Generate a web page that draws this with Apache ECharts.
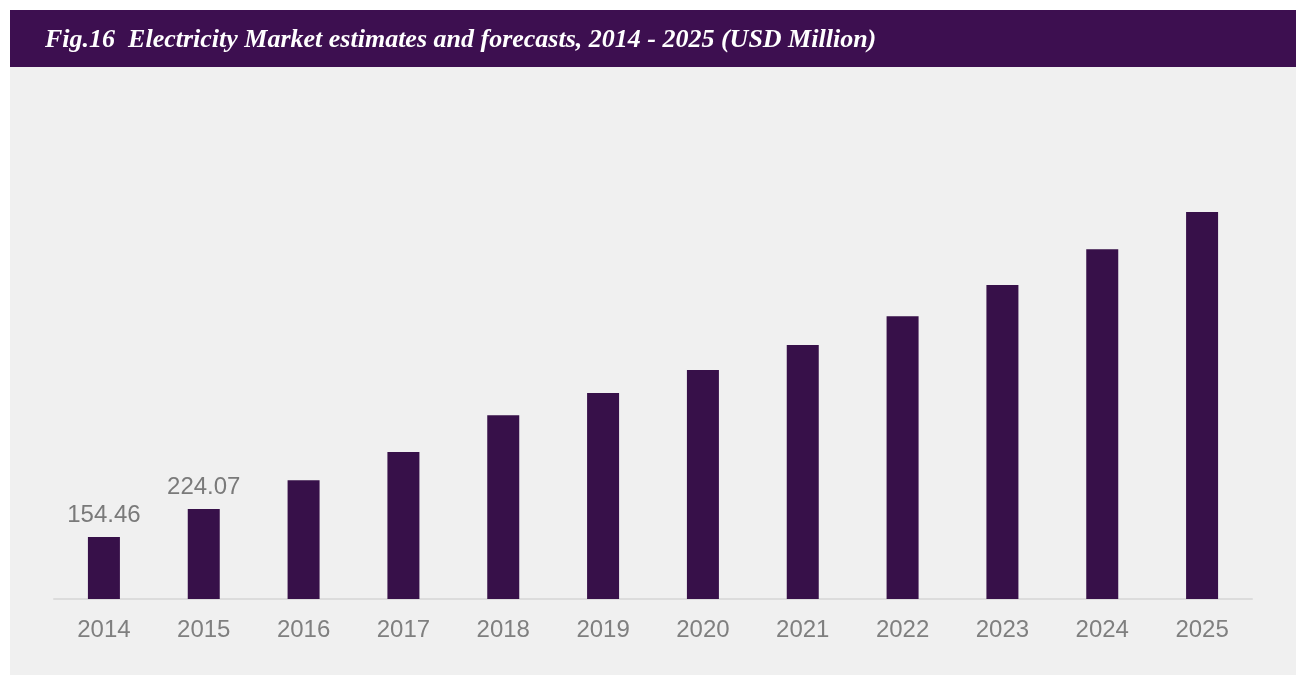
<!DOCTYPE html>
<html>
<head>
<meta charset="utf-8">
<script src="https://cdn.jsdelivr.net/npm/echarts@6/dist/echarts.min.js"></script>
<style>
  html, body { margin: 0; padding: 0; background: #ffffff; }
  #chart { width: 1296px; height: 675px; }
</style>
</head>
<body>
<div id="chart"></div>
<script>
// Market size by year, USD million
const years = ['2014', '2015', '2016', '2017', '2018', '2019', '2020', '2021', '2022', '2023', '2024', '2025'];
const marketValues = [154.46, 224.07, 295.4, 366.0, 457.4, 513.0, 570.2, 632.5, 704.0, 782.0, 870.7, 963.6];
// Only the first two years carry a value label
const labelledYears = ['2014', '2015'];
const titleText = 'Fig.16  Electricity Market estimates and forecasts, 2014 - 2025 (USD Million)';

const chart = echarts.init(document.getElementById('chart'), null, { renderer: 'canvas' });

const seriesData = marketValues.map((v, i) => ({
  value: v,
  label: { show: labelledYears.includes(years[i]) }
}));

chart.setOption({
  backgroundColor: '#ffffff',
  animation: false,
  graphic: [
    { type: 'rect', z: -10, shape: { x: 10, y: 10, width: 1286, height: 57 }, style: { fill: '#3d0f50' } },
    { type: 'rect', z: -10, shape: { x: 10, y: 67, width: 1286, height: 608 }, style: { fill: '#f0f0f0' } },
    {
      type: 'text', left: 45, top: 27, z: 10,
      style: {
        text: titleText,
        fill: '#ffffff',
        font: 'italic bold 26px "Liberation Serif", "DejaVu Serif", serif'
      }
    }
  ],
  grid: { left: 54, right: 44, top: 117, bottom: 76, containLabel: false },
  xAxis: {
    type: 'category',
    data: years,
    axisLine: { show: true, lineStyle: { color: '#dcdcdc', width: 2 } },
    axisTick: { show: false },
    axisLabel: {
      color: '#7f7f7f',
      fontSize: 24,
      fontFamily: '"Liberation Sans", Arial, sans-serif',
      margin: 19
    }
  },
  yAxis: {
    type: 'value',
    min: 0,
    max: 1200,
    show: false,
    splitLine: { show: false }
  },
  series: [{
    type: 'bar',
    data: seriesData,
    barWidth: 32,
    itemStyle: { color: '#371049' },
    label: {
      position: 'top',
      distance: 10,
      color: '#7a7a7a',
      fontSize: 24,
      fontFamily: '"Liberation Sans", Arial, sans-serif',
      formatter: p => p.value.toFixed(2)
    }
  }]
});
</script>
</body>
</html>
